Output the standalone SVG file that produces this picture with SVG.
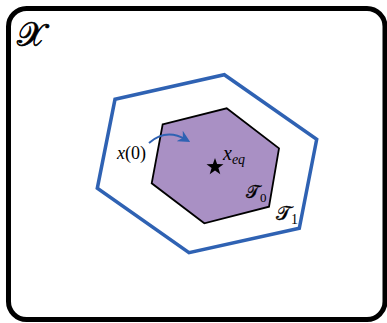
<svg xmlns="http://www.w3.org/2000/svg" width="387" height="323" viewBox="0 0 387 323">
<style>
.m{font-family:"Liberation Serif","DejaVu Serif",serif;fill:#000}
.s{font-family:"DejaVu Serif","Liberation Serif",serif;fill:#000}
.i{font-style:italic}
</style>
<defs>
<marker id="ah" viewBox="0 0 10 10" refX="6" refY="5" markerWidth="6" markerHeight="6" orient="auto" markerUnits="strokeWidth">
<path d="M0,0 L10,5 L0,10 L3,5 Z" fill="#2f62b3"/>
</marker>
</defs>
<g id="frame">
<rect x="8.5" y="8.5" width="376.5" height="311" rx="18" fill="#fff" stroke="#000" stroke-width="5"/>
<text class="s" x="17" y="46" font-size="33" stroke="#000" stroke-width="0.7">𝒳</text>
</g>
<g id="T1">
<polygon points="115,99.3 224.3,74.7 316.7,139.3 299.3,228.3 189,252.7 97.3,188.3" fill="none" stroke="#2f62b3" stroke-width="3.5"/>
<text class="s" x="276" y="220" font-size="20" stroke="#000" stroke-width="0.3">𝒯<tspan class="m" font-size="14" dy="4" stroke="none">1</tspan></text>
</g>
<g id="T0">
<polygon points="162.7,124.3 226.7,108.3 279,148.3 269,206.7 204.3,223.3 151.7,183.3" fill="#a990c4" stroke="#000" stroke-width="1.8"/>
<text class="s" x="246" y="198" font-size="18" stroke="#000" stroke-width="0.3">𝒯<tspan class="m" font-size="13" dy="4" stroke="none">0</tspan></text>
</g>
<g id="xeq">
<polygon points="215,158 217.1,164 223.5,164.2 218.4,168 220.3,174.2 215,170.5 209.7,174.2 211.6,168 206.5,164.2 212.9,164" fill="#000"/>
<text class="m i" x="223" y="160" font-size="20">x<tspan font-size="14" dy="4">eq</tspan></text>
</g>
<g id="x0">
<text class="m" x="117" y="159" font-size="18"><tspan class="i">x</tspan>(0)</text>
</g>
<g id="connectors">
<path d="M149,143 Q166,128 186,139.5" fill="none" stroke="#2f62b3" stroke-width="2" marker-end="url(#ah)"/>
</g>
</svg>
